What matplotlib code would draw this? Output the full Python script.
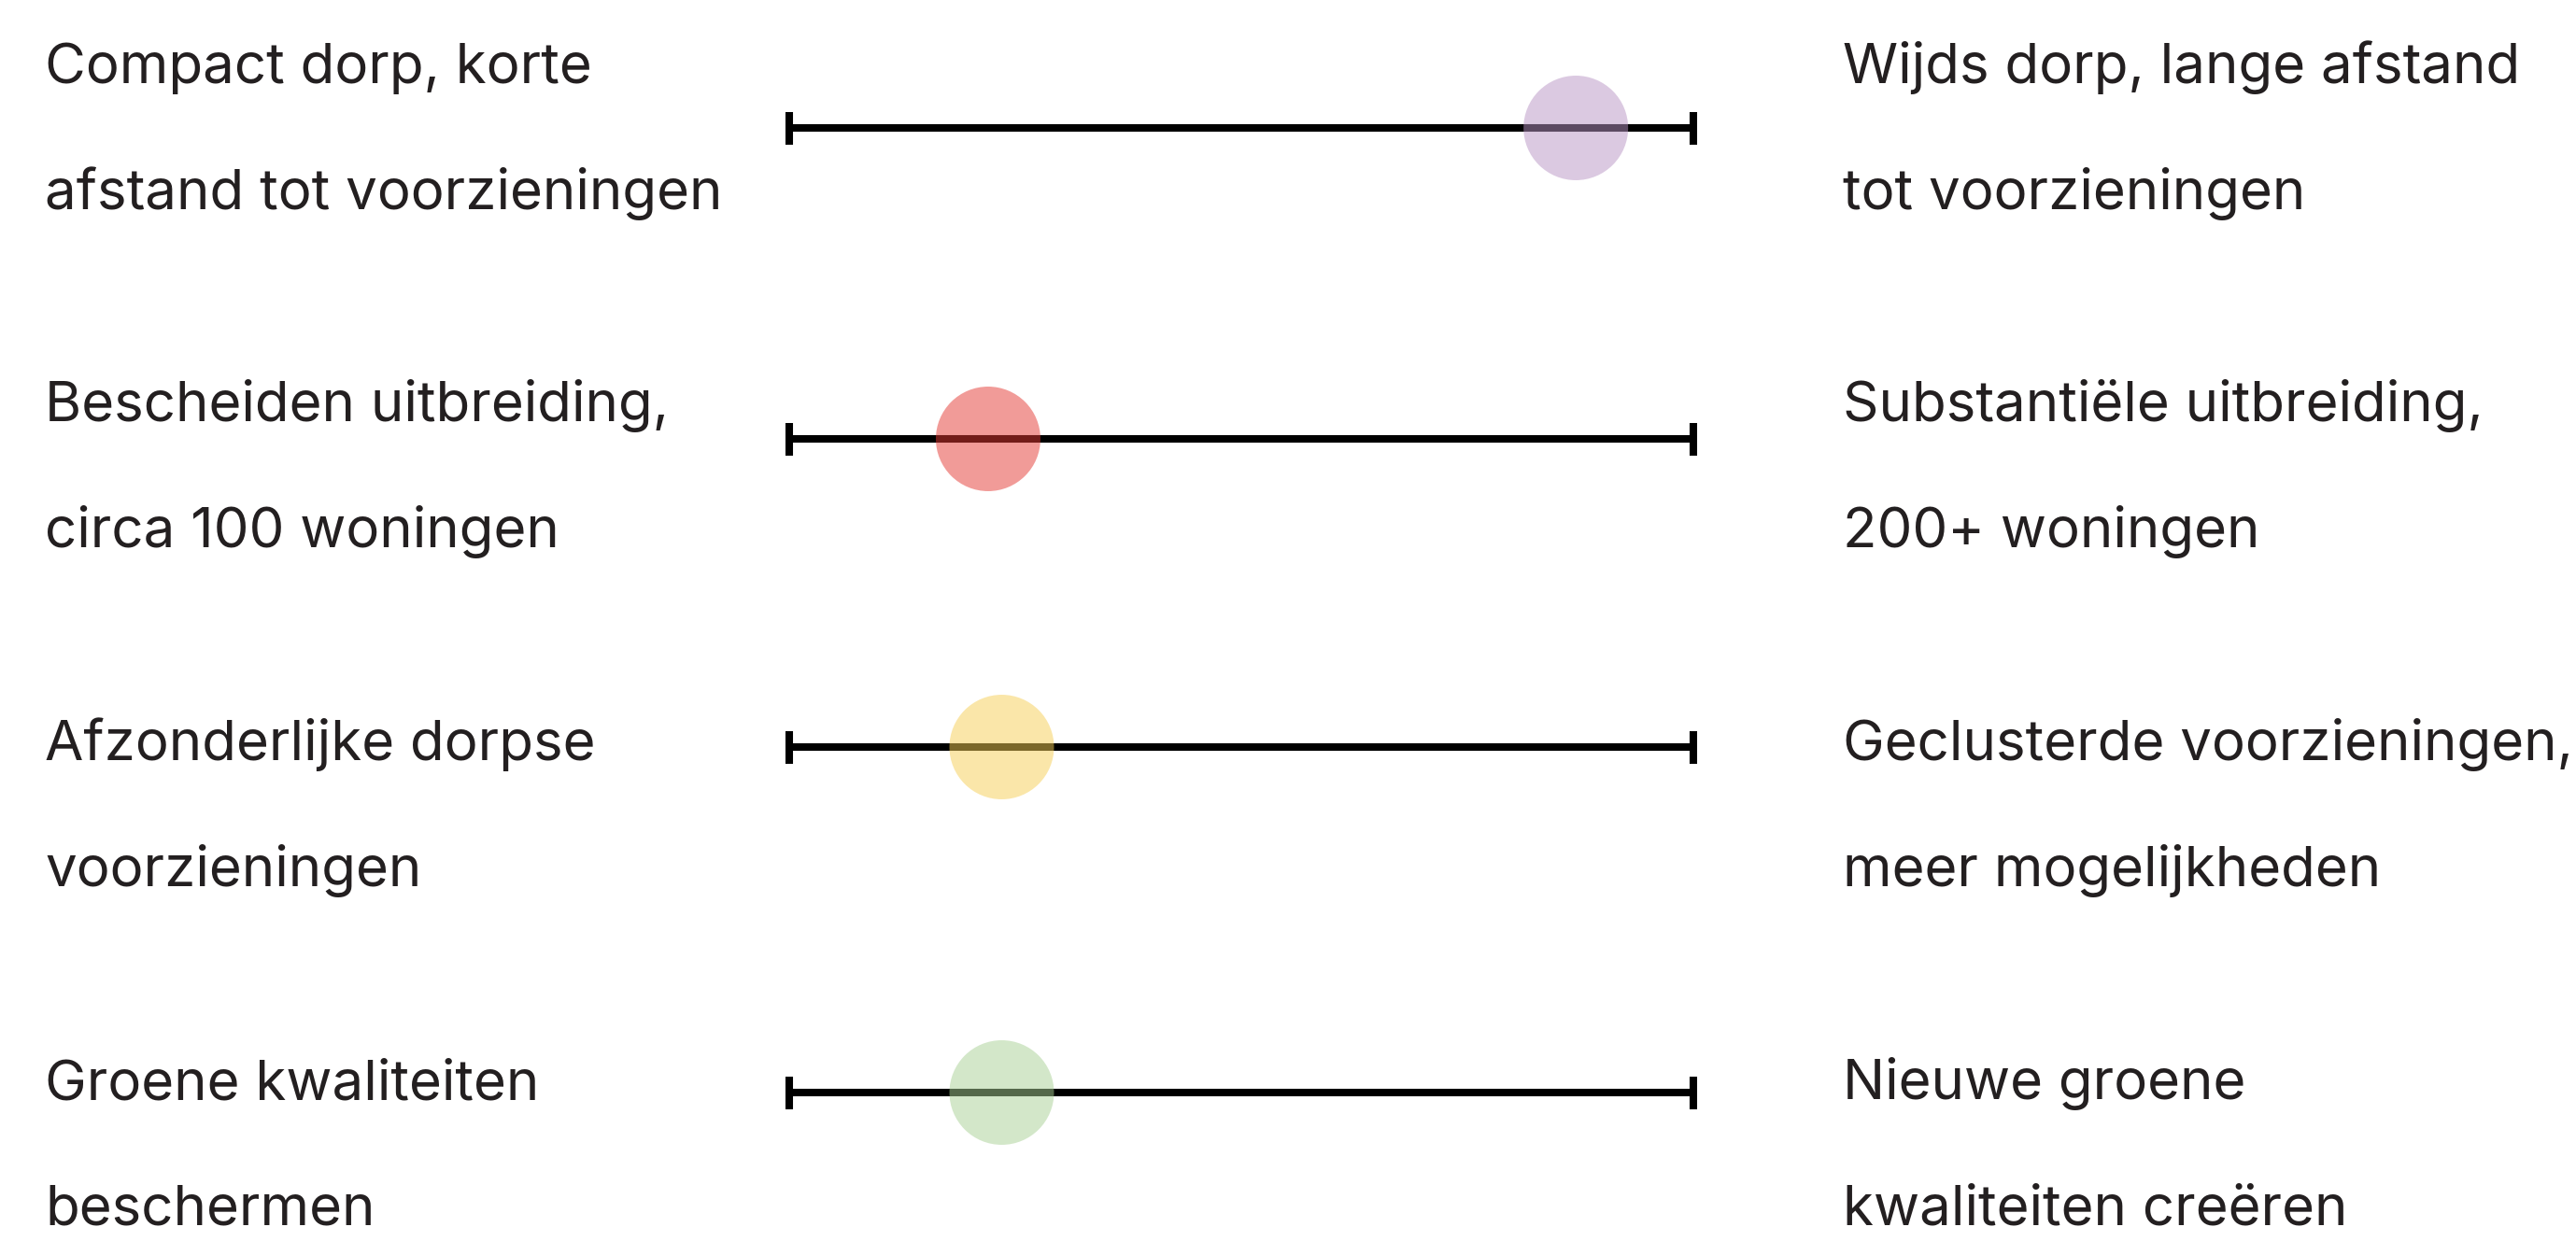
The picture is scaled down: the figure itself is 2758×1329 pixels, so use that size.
import matplotlib
matplotlib.use("Agg")
import matplotlib.pyplot as plt

plt.rcParams['font.family'] = ['Inter', 'DejaVu Sans']

# data: position of each dot on a 0-10 scale between the two extremes
left_labels = [
    ('Compact dorp, korte', 'afstand tot voorzieningen'),
    ('Bescheiden uitbreiding,', 'circa 100 woningen'),
    ('Afzonderlijke dorpse', 'voorzieningen'),
    ('Groene kwaliteiten', 'beschermen'),
]
right_labels = [
    ('Wijds dorp, lange afstand', 'tot voorzieningen'),
    ('Substantiële uitbreiding,', '200+ woningen'),
    ('Geclusterde voorzieningen,', 'meer mogelijkheden'),
    ('Nieuwe groene', 'kwaliteiten creëren'),
]
scores = [8.7, 2.2, 2.35, 2.35]
colors = ['#b894c4', '#e43832', '#f6ce54', '#a8d094']

# layout (figure pixels)
W, H = 2758, 1329
DPI = 200
line_y = [137, 470, 800, 1170]
text_base = [89, 451, 814, 1177]
line_gap = 135
x_left, x_right = 845, 1813
x_text_l, x_text_r = 48, 1973
text_color = '#231f20'
fs = 21.6

fig = plt.figure(figsize=(W / DPI, H / DPI), dpi=DPI)
fig.patch.set_facecolor('white')

ax_h = 160
for i in range(len(scores)):
    y0 = (H - line_y[i] - ax_h / 2) / H
    ax = fig.add_axes([x_left / W, y0, (x_right - x_left) / W, ax_h / H])
    ax.set_xlim(0, 10)
    ax.set_ylim(-1, 1)
    ax.axis('off')
    ax.plot([0, 10], [0, 0], color='black', lw=2.9, solid_capstyle='butt',
            clip_on=False, zorder=1)
    ax.plot([0, 10], [0, 0], ls='none', marker='|', ms=12.6, mew=2.9,
            color='black', clip_on=False, zorder=1)
    ax.scatter([scores[i]], [0], s=1625, color=colors[i], alpha=0.5,
               edgecolors='none', clip_on=False, zorder=2)

    for j in range(2):
        yb = 1 - (text_base[i] + j * line_gap) / H
        fig.text(x_text_l / W, yb, left_labels[i][j], fontsize=fs,
                 color=text_color, ha='left', va='baseline')
        fig.text(x_text_r / W, yb, right_labels[i][j], fontsize=fs,
                 color=text_color, ha='left', va='baseline')

fig.savefig('out.png', dpi=DPI, facecolor='white')
